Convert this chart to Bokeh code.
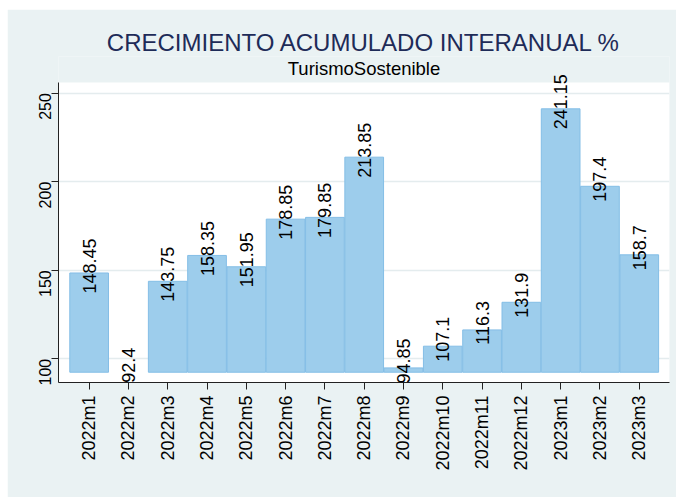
import math
from bokeh.plotting import figure
from bokeh.models import (ColumnDataSource, Range1d, FixedTicker, Title, Label,
                          CDSView, BooleanFilter)
from bokeh.embed import file_html
from bokeh.resources import INLINE

months = ["2022m1", "2022m2", "2022m3", "2022m4", "2022m5", "2022m6", "2022m7",
          "2022m8", "2022m9", "2022m10", "2022m11", "2022m12", "2023m1", "2023m2", "2023m3"]
values = [148.45, 92.4, 143.75, 158.35, 151.95, 178.85, 179.85, 213.85,
          94.85, 107.1, 116.3, 131.9, 241.15, 197.4, 158.7]
y_ticks = [100, 150, 200, 250]

FONT = "Liberation Sans"
BG = "#EAF2F3"

# plot-region limits (white area) and extended frame top (room for labels)
Y_LO, Y_HI, Y_FRAME_TOP = 86.6, 256.0, 270.7
X_LO, X_HI = -0.78, 14.77

idx = list(range(len(months)))
base = min(values)
src = ColumnDataSource(dict(x=idx, top=values, bottom=[base] * len(values),
                            label=[str(v) for v in values]))

p = figure(width=669, height=488, output_backend="svg", toolbar_location=None,
           x_range=Range1d(X_LO, X_HI), y_range=Range1d(Y_LO, Y_FRAME_TOP))
p.margin = (9, 0, 0, 7)
p.min_border_left = 51
p.min_border_right = 7
p.min_border_top = 47
p.min_border_bottom = 115
p.background_fill_color = BG
p.border_fill_color = BG
p.outline_line_color = None

# white plot region
p.quad(left=[X_LO], right=[X_HI], bottom=[Y_LO], top=[Y_HI],
       fill_color="white", line_color=None)
# horizontal grid lines
p.hspan(y=y_ticks, line_color="#E4ECEE", line_width=1.5)

view = CDSView(filter=BooleanFilter([v > base for v in values]))
p.vbar(x="x", top="top", bottom="bottom", width=0.985, source=src, view=view,
       fill_color="#9DCDEC", line_color="#84BEE6", line_width=1)

for i, v in zip(idx, values):
    p.add_layout(Label(x=i, y=v, text=str(v), angle=math.pi / 2,
                       text_align="center", text_baseline="alphabetic", y_offset=7,
                       text_font=FONT, text_font_size="18px", text_color="black"))

p.add_layout(Label(x=(X_LO + X_HI) / 2, y=263.9, text="TurismoSostenible",
                   text_align="center", text_baseline="middle", text_font=FONT,
                   text_font_size="18.5px", text_color="black"))
p.add_layout(Title(text="CRECIMIENTO ACUMULADO INTERANUAL %", align="center",
                   text_font=FONT, text_font_size="24px", text_font_style="normal",
                   text_color="#1E2B58", standoff=2), "above")

p.xgrid.grid_line_color = None
p.ygrid.grid_line_color = None

p.xaxis.ticker = FixedTicker(ticks=idx)
p.xaxis.major_label_overrides = {i: m for i, m in zip(idx, months)}
p.xaxis.major_label_orientation = math.pi / 2
p.yaxis.ticker = FixedTicker(ticks=y_ticks)
p.yaxis.major_label_orientation = math.pi / 2
p.yaxis.bounds = (Y_LO, Y_HI)

for ax in (p.xaxis, p.yaxis):
    ax.axis_line_color = "#222222"
    ax.axis_line_width = 1
    ax.major_tick_line_color = "#222222"
    ax.major_tick_out = 7
    ax.major_tick_in = 0
    ax.minor_tick_line_color = None
    ax.major_label_text_font = FONT
    ax.major_label_text_color = "black"
    ax.major_label_standoff = 6
p.xaxis.major_label_text_font_size = "18px"
p.yaxis.major_label_text_font_size = "16px"

open("out.html", "w").write(file_html(p, INLINE))
